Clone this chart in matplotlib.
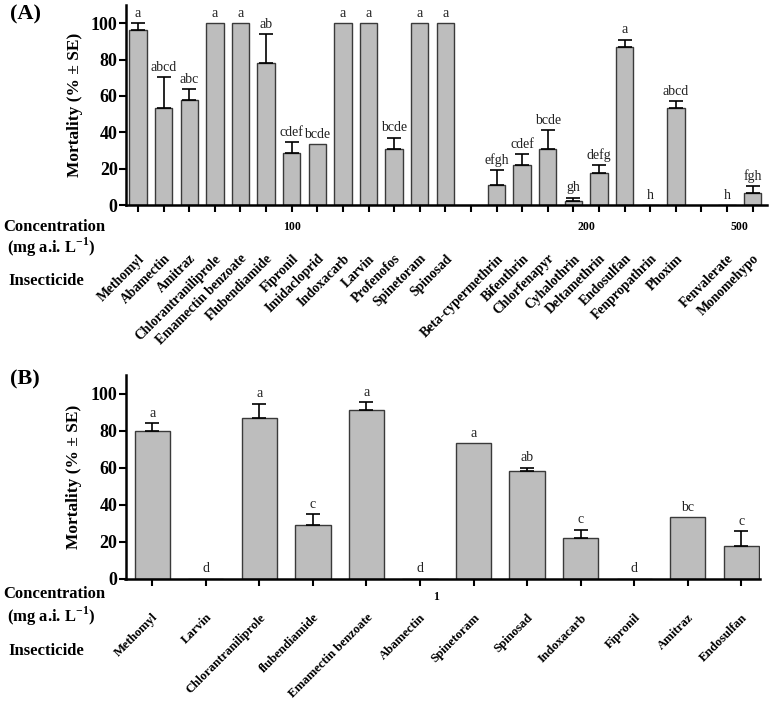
import matplotlib
matplotlib.use("Agg")
import matplotlib.pyplot as plt
import matplotlib.transforms as mtransforms
import numpy as np

plt.rcParams['font.family'] = ['Liberation Serif', 'DejaVu Serif']
plt.rcParams['mathtext.fontset'] = 'custom'
plt.rcParams['mathtext.rm'] = 'Liberation Serif'
plt.rcParams['mathtext.bf'] = 'Liberation Serif:bold'

# Panel A data (three concentration groups)
conc_a = ["100", "200", "500"]
group_size_a = [13, 8, 2]
insect_a = ["Methomyl", "Abamectin", "Amitraz", "Chlorantraniliprole", "Emamectin benzoate",
            "Flubendiamide", "Fipronil", "Imidacloprid", "Indoxacarb", "Larvin", "Profenofos",
            "Spinetoram", "Spinosad",
            "Beta-cypermethrin", "Bifenthrin", "Chlorfenapyr", "Cyhalothrin", "Deltamethrin",
            "Endosulfan", "Fenpropathrin", "Phoxim",
            "Fenvalerate", "Monomehypo"]
mort_a = [96, 53.3, 58, 100, 100, 78, 28.7, 33.3, 100, 100, 31, 100, 100,
          11, 22, 31, 2, 17.5, 87, 0, 53.3,
          0, 6.5]
se_a = [4, 17, 5.7, 0, 0, 16, 6, 0, 0, 0, 6, 0, 0,
        8, 6, 10, 2, 4.5, 4, 0, 4,
        0, 4]
let_a = ["a", "abcd", "abc", "a", "a", "ab", "cdef", "bcde", "a", "a", "bcde", "a", "a",
         "efgh", "cdef", "bcde", "gh", "defg", "a", "h", "abcd",
         "h", "fgh"]

# Panel B data (one concentration)
conc_b = ["1"]
insect_b = ["Methomyl", "Larvin", "Chlorantraniliprole", "flubendiamide", "Emamectin benzoate",
            "Abamectin", "Spinetoram", "Spinosad", "Indoxacarb", "Fipronil", "Amitraz", "Endosulfan"]
mort_b = [80, 0, 87, 29, 91, 0, 73.3, 58, 22, 0, 33.3, 17.5]
se_b = [4, 0, 7.5, 5.7, 4.5, 0, 0, 2, 4.4, 0, 0, 8]
let_b = ["a", "d", "a", "c", "a", "d", "a", "ab", "c", "d", "bc", "c"]

W, H = 771, 706
fig = plt.figure(figsize=(W / 100, H / 100), dpi=100)

bar_color = "#bdbdbd"
edge_color = "#3a3a3a"


def draw_panel(ax, pos, mort, se, letters, names, conc_pos, conc_txt, width,
               name_drop, conc_drop, lab_fs):
    pos = np.asarray(pos, dtype=float)
    mort = np.asarray(mort, dtype=float)
    se = np.asarray(se, dtype=float)
    ax.bar(pos, mort, width=width, color=bar_color, edgecolor=edge_color, linewidth=1.0, zorder=2)
    has_err = se > 0
    ax.errorbar(pos[has_err], mort[has_err], yerr=[np.zeros(has_err.sum()), se[has_err]],
                fmt="none", ecolor="black", elinewidth=1.2, capsize=5, capthick=1.2, zorder=3)
    for x, m, s, lt in zip(pos, mort, se, letters):
        ax.annotate(lt, (x, m + s), xytext=(0, 4.5), textcoords="offset points",
                    ha="center", va="baseline", fontsize=10, color="#222222")

    ax.set_ylim(0, 110)
    ax.set_yticks([0, 20, 40, 60, 80, 100])
    for lbl in ax.get_yticklabels():
        lbl.set_fontweight("bold")
        lbl.set_fontsize(13)
    ax.tick_params(axis="y", direction="out", length=5, width=1.5, pad=1)
    ax.tick_params(axis="x", direction="out", length=5, width=1.5, labelbottom=False)
    for sp in ["top", "right"]:
        ax.spines[sp].set_visible(False)
    for sp in ["left", "bottom"]:
        ax.spines[sp].set_linewidth(1.8)
    ax.set_ylabel("Mortality (% ± SE)", fontweight="bold", fontsize=12.5, labelpad=6)

    # insecticide names, rotated under the axis
    trans = mtransforms.blended_transform_factory(ax.transData, ax.transAxes)
    off = mtransforms.offset_copy(trans, fig=fig, x=0, y=-name_drop, units="dots")
    for x, nm in zip(pos, names):
        ax.text(x, 0, nm, transform=off, rotation=45, rotation_mode="anchor",
                ha="right", va="top", fontsize=lab_fs, fontweight="bold")

    # concentration values
    offc = mtransforms.offset_copy(trans, fig=fig, x=0, y=-conc_drop, units="dots")
    for x, c in zip(conc_pos, conc_txt):
        ax.text(x, 0, c, transform=offc, ha="center", va="center", fontsize=8.5,
                fontweight="bold")


def row_labels(axis_y, rows):
    fig.text(3 / W, 1 - (axis_y + rows[0]) / H, "Concentration", ha="left", va="center",
             fontsize=12, fontweight="bold")
    fig.text(7 / W, 1 - (axis_y + rows[1]) / H, r"(mg a.i. L$^{\mathbf{-1}}$)", ha="left",
             va="center", fontsize=12, fontweight="bold")
    fig.text(8 / W, 1 - (axis_y + rows[2]) / H, "Insecticide", ha="left", va="center",
             fontsize=12, fontweight="bold")


# ---- Panel A ----
pos_a = []
conc_pos_a = []
start = 0
for n in group_size_a:
    pos_a += list(range(start, start + n))
    conc_pos_a.append(start + (n - 1) / 2)
    start += n + 1

ax_a = fig.add_axes([126 / W, 1 - 205 / H, (767 - 126) / W, (205 - 5) / H])
ax_a.set_xlim(-0.47, 24.56)
ax_a.set_xticks(np.arange(0, 25))
draw_panel(ax_a, pos_a, mort_a, se_a, let_a, insect_a, conc_pos_a, conc_a, 0.68,
           47, 22, 9.8)
row_labels(205, [22, 42, 76])
fig.text(10 / W, 1 - 4 / H, "(A)", ha="left", va="top", fontsize=16, fontweight="bold")

# ---- Panel B ----
pos_b = np.arange(len(insect_b))
ax_b = fig.add_axes([125.5 / W, 1 - 578.5 / H, (760 - 125.5) / W, (578.5 - 375) / H])
ax_b.set_xlim(-0.5, 11.35)
ax_b.set_xticks(pos_b)
draw_panel(ax_b, pos_b, mort_b, se_b, let_b, insect_b, [5.3], conc_b, 0.66,
           33, 19, 9.2)
row_labels(578.5, [15.5, 38, 72.5])
fig.text(10 / W, 1 - 379 / H, "(B)", ha="left", va="center", fontsize=16, fontweight="bold")

fig.savefig("out.png", dpi=100)
